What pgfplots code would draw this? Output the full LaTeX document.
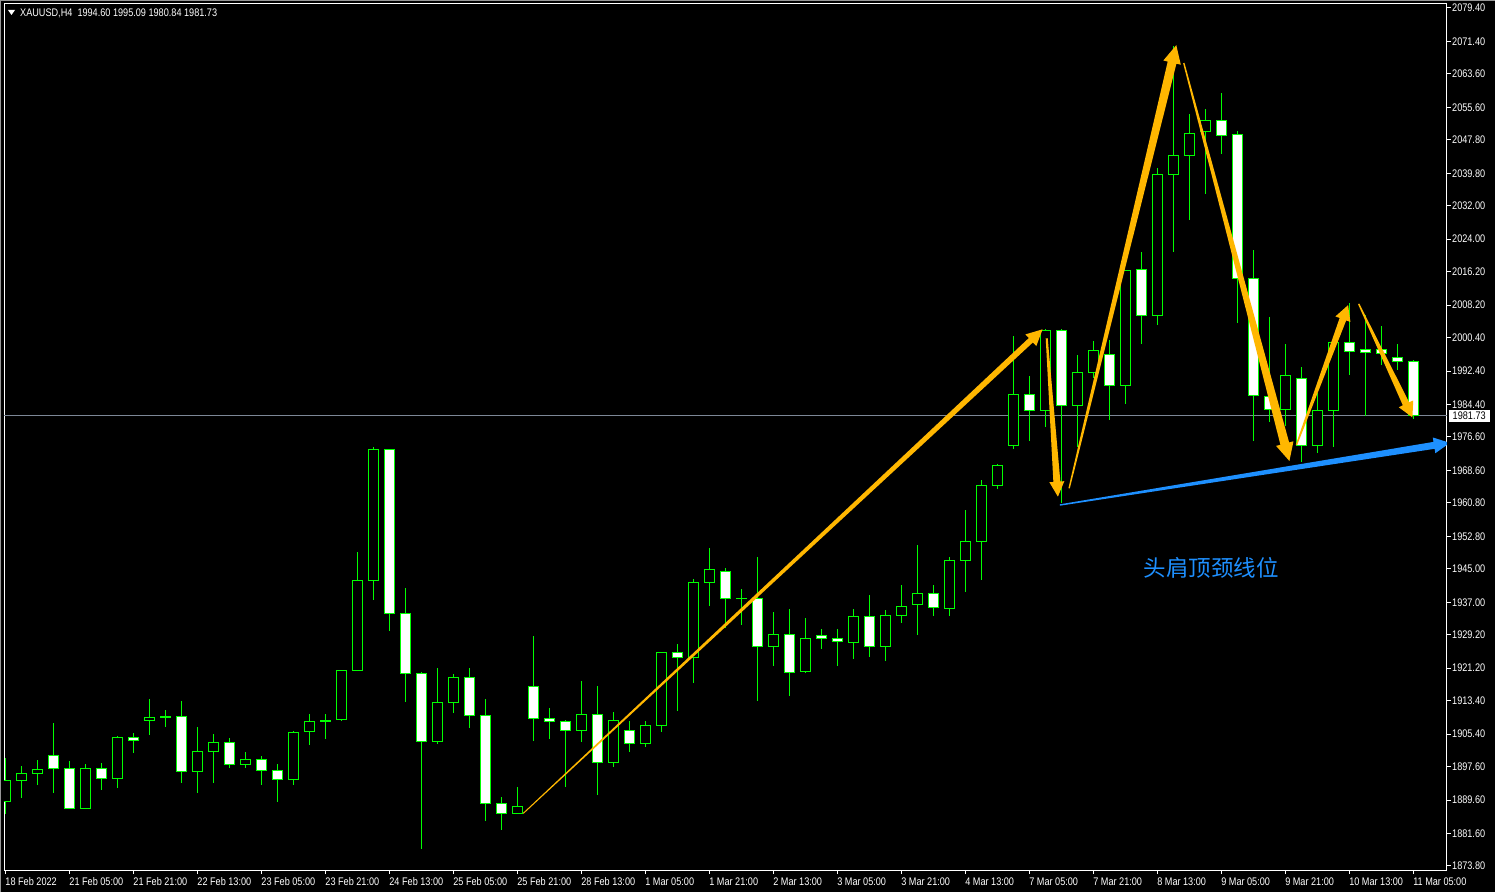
\documentclass[border=0pt]{standalone}
\usepackage{pgfplots}
\pgfplotsset{compat=1.18}
\usepackage{pgfplotstable}
\usepackage{fontspec}
\setmainfont{Liberation Sans}[FakeStretch=0.83]
\newfontfamily\cjk{Noto Sans CJK SC}
\usetikzlibrary{calc}

\definecolor{candle}{RGB}{0,255,0}
\definecolor{arrow}{RGB}{255,183,0}
\definecolor{neck}{RGB}{30,144,255}
\definecolor{pline}{RGB}{125,135,150}
\definecolor{winedge}{RGB}{150,150,150}

\newcommand{\mtfont}{\fontsize{11}{12}\selectfont}

% XAUUSD H4, 18 Feb - 11 Mar 2022 (bar index, open, high, low, close)
\pgfplotstableread{
i o h l c
0 1889.2 1899.6 1886.3 1894.4
1 1894.3 1897.8 1890.2 1896.0
2 1896.0 1899.2 1893.2 1897.0
3 1900.3 1908.1 1891.4 1897.1
4 1897.2 1899.0 1887.4 1887.6
5 1887.6 1898.3 1887.4 1897.2
6 1897.2 1898.5 1892.1 1894.8
7 1894.8 1905.0 1892.6 1904.7
8 1904.7 1905.7 1901.0 1903.9
9 1908.6 1913.8 1905.1 1909.4
10 1909.6 1911.2 1907.0 1909.6
11 1909.7 1913.4 1893.6 1896.5
12 1896.5 1907.1 1891.2 1901.3
13 1901.2 1905.5 1893.6 1903.5
14 1903.5 1904.5 1897.4 1898.2
15 1898.2 1901.1 1897.4 1899.4
16 1899.4 1900.2 1893.1 1896.8
17 1896.7 1898.2 1889.2 1894.5
18 1894.5 1906.2 1893.3 1905.8
19 1906.0 1910.2 1902.9 1908.4
20 1908.6 1910.2 1904.2 1908.6
21 1908.9 1920.7 1908.6 1920.7
22 1920.6 1949.0 1920.6 1942.3
23 1942.2 1974.2 1937.5 1973.6
24 1973.6 1973.8 1930.2 1934.4
25 1934.4 1940.4 1913.2 1920.0
26 1920.0 1920.2 1877.9 1903.6
27 1903.6 1921.2 1903.1 1913.0
28 1912.9 1919.8 1910.5 1919.0
29 1919.0 1921.2 1906.9 1909.8
30 1909.8 1913.8 1884.7 1888.8
31 1888.8 1890.3 1882.5 1886.4
32 1886.4 1892.7 1886.3 1888.1
33 1916.9 1928.9 1903.8 1909.2
34 1909.2 1911.7 1904.2 1908.5
35 1908.5 1908.8 1892.8 1906.2
36 1906.2 1918.1 1903.6 1910.1
37 1910.1 1916.9 1890.7 1898.6
38 1898.6 1910.7 1897.6 1908.7
39 1906.3 1908.5 1901.2 1903.2
40 1903.2 1908.5 1902.4 1907.5
41 1907.4 1925.0 1906.0 1925.0
42 1925.0 1927.0 1911.0 1923.8
43 1923.8 1942.6 1917.7 1941.8
44 1941.8 1950.0 1936.2 1944.9
45 1944.4 1945.2 1930.8 1937.9
46 1937.9 1940.1 1931.6 1937.9
47 1937.9 1947.8 1913.4 1926.4
48 1926.4 1934.7 1921.8 1929.3
49 1929.3 1935.4 1914.6 1920.2
50 1920.4 1933.2 1920.0 1928.3
51 1929.1 1930.6 1925.9 1928.4
52 1928.4 1930.6 1921.8 1927.5
53 1927.3 1935.4 1923.4 1933.6
54 1933.6 1938.7 1924.0 1926.4
55 1926.4 1935.1 1923.0 1933.9
56 1933.8 1941.1 1932.0 1936.0
57 1936.4 1950.7 1929.2 1939.1
58 1939.1 1941.1 1933.8 1935.8
59 1935.5 1947.8 1933.8 1947.0
60 1947.0 1959.1 1939.5 1951.6
61 1951.6 1966.3 1942.4 1965.0
62 1965.0 1970.1 1964.2 1969.8
63 1974.6 2000.8 1973.8 1986.8
64 1986.8 1991.2 1975.7 1983.0
65 1983.0 2002.6 1979.1 2002.2
66 2002.2 2002.4 1960.7 1984.2
67 1984.2 1996.3 1974.3 1992.1
68 1992.1 1999.6 1990.8 1997.4
69 1996.4 1999.9 1980.8 1989.0
70 1989.0 2016.6 1984.4 2016.6
71 2016.8 2020.9 1999.0 2005.8
72 2005.8 2041.1 2003.4 2039.6
73 2039.6 2070.3 2021.0 2044.1
74 2044.1 2054.0 2028.5 2049.4
75 2049.9 2055.2 2034.9 2052.5
76 2052.5 2059.0 2044.5 2048.9
77 2049.1 2049.9 2004.0 2014.6
78 2014.6 2021.4 1975.7 1986.6
79 1986.3 2005.4 1980.3 1983.2
80 1983.2 1998.9 1979.3 1991.4
81 1990.6 1993.3 1970.5 1974.6
82 1974.6 1987.1 1972.7 1983.0
83 1983.0 1999.5 1974.1 1999.3
84 1999.3 2008.6 1991.4 1997.0
85 1997.6 2005.8 1981.6 1996.9
86 1997.6 2003.1 1993.8 1996.5
87 1995.6 1998.8 1992.7 1994.6
88 1994.60 1995.09 1980.84 1981.73
}\candles

% tapered arrow: colour, start, tip, start half-width, shaft half-width, head half-width, head length
\newcommand{\taper}[7]{%
  \coordinate (tA) at (#2);
  \coordinate (tT) at (#3);
  \coordinate (tB) at ($(tT)!#7!(tA)$);
  \fill[#1] ($(tA)!#4!-90:(tT)$) -- ($(tB)!#5!90:(tA)$) -- ($(tB)!#6!90:(tA)$) -- (tT)
    -- ($(tB)!#6!-90:(tA)$) -- ($(tB)!#5!-90:(tA)$) -- ($(tA)!#4!90:(tT)$) -- cycle;
}

\begin{document}
\begin{tikzpicture}[x=1pt,y=1pt]
\fill[black] (0,0) rectangle (1495,892);
\useasboundingbox (0,0) rectangle (1495,892);
\draw[winedge, line width=1pt] (0.5,0) -- (0.5,891.5) -- (1495,891.5);

\begin{axis}[
  at={(4pt,22pt)}, anchor=south west,
  scale only axis, width=1443pt, height=866pt,
  xmin=-0.08, xmax=90.12, ymin=1872.84, ymax=2080.36,
  axis background/.style={fill=black},
  axis line style={white, line width=1pt},
  tick align=outside, major tick length=4pt,
  tick style={white, line width=1pt},
  xtick pos=bottom, ytick pos=right,
  yticklabel pos=right,
  xtick={0,4,...,88},
  xticklabels={18 Feb 2022, 21 Feb 05:00, 21 Feb 21:00, 22 Feb 13:00, 23 Feb 05:00,
    23 Feb 21:00, 24 Feb 13:00, 25 Feb 05:00, 25 Feb 21:00, 28 Feb 13:00,
    1 Mar 05:00, 1 Mar 21:00, 2 Mar 13:00, 3 Mar 05:00, 3 Mar 21:00, 4 Mar 13:00,
    7 Mar 05:00, 7 Mar 21:00, 8 Mar 13:00, 9 Mar 05:00, 9 Mar 21:00, 10 Mar 13:00,
    11 Mar 05:00},
  ytick={1873.8,1881.6,1889.6,1897.6,1905.4,1913.4,1921.2,1929.2,1937.0,1945.0,
    1952.8,1960.8,1968.6,1976.6,1984.4,1992.4,2000.4,2008.2,2016.2,2024.0,2032.0,
    2039.8,2047.8,2055.6,2063.6,2071.4,2079.4},
  yticklabels={1873.80,1881.60,1889.60,1897.60,1905.40,1913.40,1921.20,1929.20,
    1937.00,1945.00,1952.80,1960.80,1968.60,1976.60,1984.40,1992.40,2000.40,
    2008.20,2016.20,2024.00,2032.00,2039.80,2047.80,2055.60,2063.60,2071.40,2079.40},
  xticklabel style={anchor=base west, inner sep=0pt, text=white, font=\mtfont, yshift=-11pt},
  yticklabel style={anchor=west, inner sep=0pt, text=white, font=\mtfont, xshift=1pt},
  every error bar/.append style={line cap=butt},
]
% price line
\addplot[pline, line width=1pt, forget plot] coordinates {(-1,1981.73) (91,1981.73)};

% wicks
\addplot[forget plot, draw=none, mark=none,
  error bars/.cd, y dir=both, y explicit, error mark=none,
  error bar style={line width=1pt, draw=candle}]
  table[x=i, y expr={(\thisrow{h}+\thisrow{l})/2},
        y error expr={(\thisrow{h}-\thisrow{l})/2}] {\candles};
% body outlines
\addplot[forget plot, draw=none, mark=none,
  error bars/.cd, y dir=both, y explicit, error mark=none,
  error bar style={line width=11pt, draw=candle}]
  table[x=i, y expr={(\thisrow{o}+\thisrow{c})/2},
        y error expr={abs(\thisrow{c}-\thisrow{o})/2+0.12}] {\candles};
% bull bodies (black inside)
\addplot[forget plot, draw=none, mark=none,
  restrict expr to domain={\thisrow{c}-\thisrow{o}}{0.3:1000},
  error bars/.cd, y dir=both, y explicit, error mark=none,
  error bar style={line width=9pt, draw=black}]
  table[x=i, y expr={(\thisrow{o}+\thisrow{c})/2},
        y error expr={(\thisrow{c}-\thisrow{o})/2-0.12}] {\candles};
% bear bodies (white inside)
\addplot[forget plot, draw=none, mark=none,
  restrict expr to domain={\thisrow{o}-\thisrow{c}}{0.3:1000},
  error bars/.cd, y dir=both, y explicit, error mark=none,
  error bar style={line width=9pt, draw=white}]
  table[x=i, y expr={(\thisrow{o}+\thisrow{c})/2},
        y error expr={(\thisrow{o}-\thisrow{c})/2-0.12}] {\candles};

% head-and-shoulders sketch
\taper{arrow}{32.375,1886.4}{64.84,2002.4}{0.5pt}{3pt}{8pt}{16pt}
\taper{arrow}{65.1,2000.25}{65.8,1962.3}{1pt}{3.5pt}{7.5pt}{15pt}
\taper{arrow}{66.5,1964.3}{73.2,2070.5}{0.7pt}{4.5pt}{9pt}{18pt}
\taper{arrow}{73.67,2066.2}{80.27,1970.85}{0.7pt}{4.5pt}{9pt}{18pt}
\taper{arrow}{80.71,1974.7}{83.94,2008.2}{0.7pt}{3.5pt}{8pt}{15pt}
\taper{arrow}{84.6,2008.5}{87.96,1981.3}{0.7pt}{3.5pt}{8pt}{15pt}
\taper{neck}{65.92,1960.3}{90.3,1975.2}{0.7pt}{3.5pt}{8pt}{16pt}
\end{axis}

% current price tag
\node[fill=white, text=black, font=\mtfont, inner sep=0pt, minimum width=41pt,
  minimum height=12pt, anchor=west] at (1448.5,476) {1981.73};
% header
\fill[white] (8,882) -- (15,882) -- (11.5,877) -- cycle;
\node[anchor=base west, inner sep=0pt, text=white, font=\mtfont] at (20,875)
  {XAUUSD,H4\ \ 1994.60 1995.09 1980.84 1981.73};
% label
\node[text=neck, font=\cjk\fontsize{22.5}{24}\selectfont] at (1211,324) {头肩顶颈线位};
\end{tikzpicture}
\end{document}
